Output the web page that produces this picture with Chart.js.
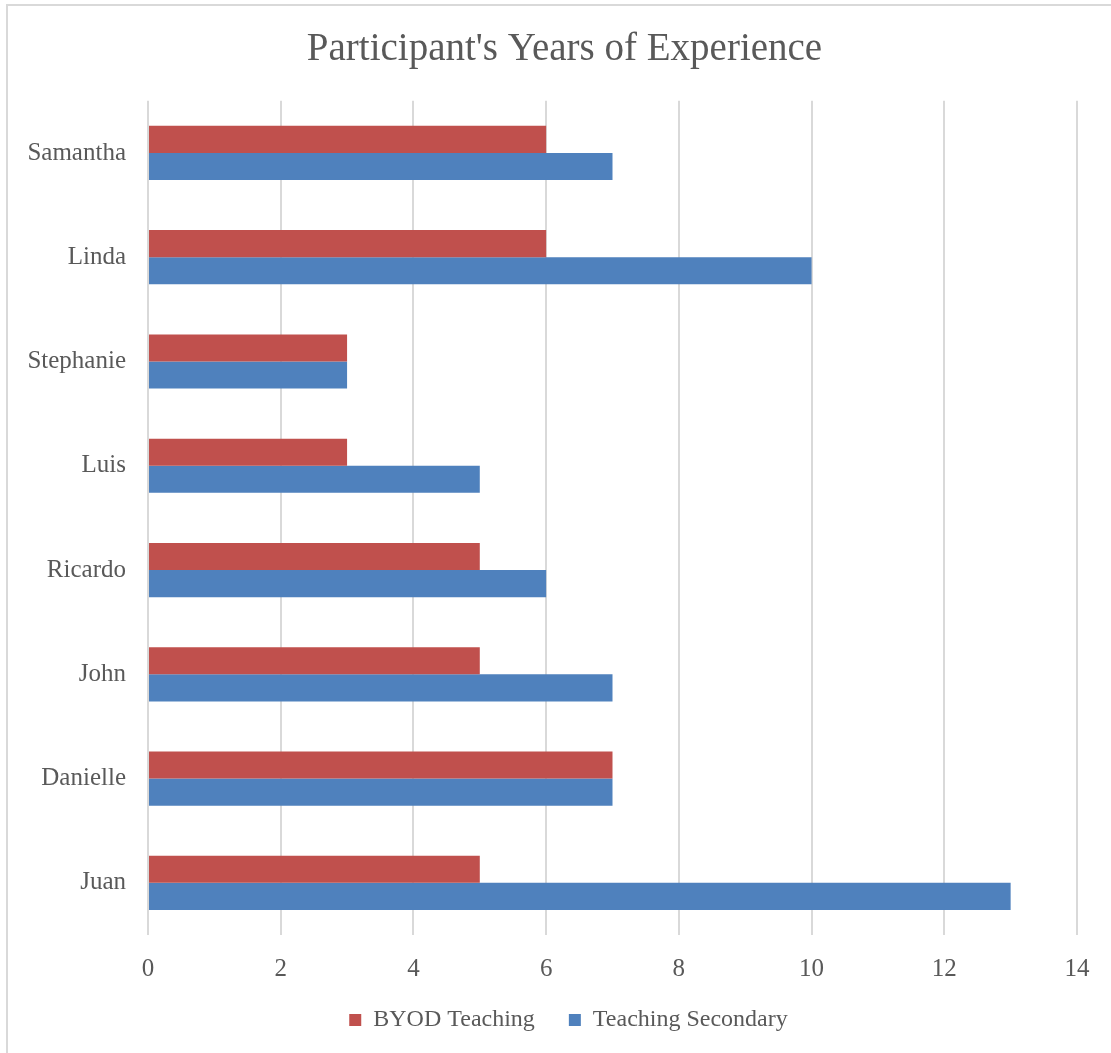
<!DOCTYPE html>
<html>
<head>
<meta charset="utf-8">
<script src="https://cdn.jsdelivr.net/npm/chart.js@4"></script>
<style>
    html, body { margin: 0; padding: 0; background: #fff; }
    #wrap { position: relative; width: 1111px; height: 1053px; overflow: hidden; }
    #frame {
        position: absolute; left: 6px; top: 4px; width: 1200px; height: 1200px;
        border-left: 2px solid #D9D9D9; border-top: 2px solid #D9D9D9;
    }
    canvas { position: absolute; left: 0; top: 0; }
</style>
</head>
<body>
<div id="wrap">
    <div id="frame"></div>
    <canvas id="expChart" width="1111" height="1053"></canvas>
</div>
<script>
const participants = ["Samantha", "Linda", "Stephanie", "Luis", "Ricardo", "John", "Danielle", "Juan"];
const byodTeaching = [6, 6, 3, 3, 5, 5, 7, 5];
const teachingSecondary = [7, 10, 3, 5, 6, 7, 7, 13];

const textColor = "#595959";
const fontFamily = "'Liberation Serif', 'DejaVu Serif', serif";

// the original is centred on a wider frame than the crop, so nudge title and legend
const nudgeBlocks = {
    id: "nudgeBlocks",
    afterLayout(chart) {
        const t = chart.titleBlock;
        if (t) { t.left += 26; t.right += 26; t.top -= 1; t.bottom -= 1; }
        const lg = chart.legend;
        if (lg) {
            lg.top -= 11; lg.bottom -= 11;
            lg.left += 30; lg.right += 30;
        }
    },
};

new Chart(document.getElementById("expChart"), {
    type: "bar",
    data: {
        labels: participants,
        datasets: [
            {
                label: "BYOD Teaching",
                data: byodTeaching,
                backgroundColor: "#C0504D",
                borderWidth: 0,
            },
            {
                label: "Teaching Secondary",
                data: teachingSecondary,
                backgroundColor: "#4F81BD",
                borderWidth: 0,
            },
        ],
    },
    options: {
        indexAxis: "y",
        responsive: false,
        animation: false,
        categoryPercentage: 0.52,
        barPercentage: 1,
        layout: {
            padding: { left: 0, right: 34, top: 0, bottom: 0 },
        },
        plugins: {
            title: {
                display: true,
                text: "Participant's Years of Experience",
                color: textColor,
                font: { family: fontFamily, size: 39, weight: "normal", lineHeight: 1.2 },
                padding: { top: 27, bottom: 27 },
            },
            legend: {
                position: "bottom",
                labels: {
                    color: textColor,
                    font: { family: fontFamily, size: 24 },
                    boxWidth: 12,
                    boxHeight: 12,
                    padding: 34,
                },
            },
            tooltip: { enabled: false },
        },
        scales: {
            x: {
                min: 0,
                max: 14,
                ticks: {
                    stepSize: 2,
                    color: textColor,
                    font: { family: fontFamily, size: 25 },
                    padding: 19,
                },
                grid: { color: "#D9D9D9", lineWidth: 2, drawTicks: false },
                border: { display: false },
                afterFit: (scale) => { scale.height = 50; },
            },
            y: {
                ticks: {
                    color: textColor,
                    font: { family: fontFamily, size: 25 },
                    padding: 22,
                },
                grid: { display: false, drawTicks: false },
                border: { display: false },
                afterFit: (scale) => { scale.width = 148; },
            },
        },
    },
    plugins: [nudgeBlocks],
});
</script>
</body>
</html>
